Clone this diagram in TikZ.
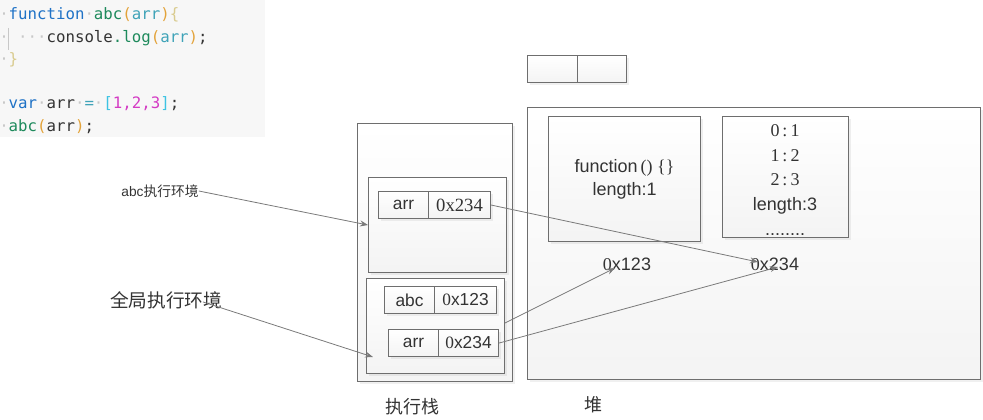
\documentclass[tikz,border=0pt]{standalone}
\usepackage{fontspec}
\setmainfont{Liberation Serif}
\setsansfont{Liberation Sans}
\setmonofont{DejaVu Sans Mono}
\newfontfamily\cjk{Noto Sans CJK SC}
\usetikzlibrary{arrows.meta,shadows,positioning}

\definecolor{boxgray}{HTML}{6E6E6E}
\definecolor{arrowgray}{HTML}{7A7A7A}
\definecolor{kwblue}{HTML}{1F72C6}
\definecolor{fngreen}{HTML}{1E8A5C}
\definecolor{parorange}{HTML}{E3A33A}
\definecolor{argteal}{HTML}{3FA3B8}
\definecolor{bracepale}{HTML}{D9CB8E}
\definecolor{brcyan}{HTML}{3DC3E3}
\definecolor{nummag}{HTML}{D43BC4}
\definecolor{dotgray}{HTML}{C8C8C8}
\definecolor{txt}{HTML}{333333}

\newcommand{\dt}{\textcolor{dotgray}{·}}

\tikzset{
  box/.style={draw=boxgray, line width=0.8pt, inner sep=0pt, anchor=north west,
    top color=white, bottom color=gray!9,
    drop shadow={opacity=0.12, shadow xshift=1.5pt, shadow yshift=-1.5pt}},
  cell/.style={box, minimum height=20.25pt, font=\sffamily\fontsize{13}{15}\selectfont, text=txt},
  codeline/.style={anchor=base west, inner sep=0pt, font=\ttfamily\fontsize{11.8}{14}\selectfont, text=txt},
  addr/.style={font=\sffamily\fontsize{13.5}{16}\selectfont, text=txt},
  link/.style={draw=arrowgray, line width=0.6pt, -{Stealth[length=6pt,width=4.5pt]}}
}

\begin{document}
\begin{tikzpicture}[x=0.75pt,y=-0.75pt]
  \useasboundingbox (0,0) rectangle (983,420);

  % code
  \fill [gray!6] (0,0) rectangle (265,137);
  \draw [dotgray, line width=0.6pt] (8,28) -- (8,50);
  \node [codeline] (code1) at (-1,20) {\dt\textcolor{kwblue}{function}\dt\textcolor{fngreen}{abc}\textcolor{parorange}{(}\textcolor{argteal}{arr}\textcolor{parorange}{)}\textcolor{bracepale}{\{}};
  \node [codeline] (code2) at (-1,43) {\dt\ \dt\dt\dt console\textcolor{fngreen}{.log}\textcolor{parorange}{(}\textcolor{argteal}{arr}\textcolor{parorange}{)};};
  \node [codeline] (code3) at (-1,65) {\dt\textcolor{bracepale}{\}}};
  \node [codeline] (code5) at (-1,109) {\dt\textcolor{kwblue}{var}\dt arr\dt\textcolor{argteal}{=}\dt\textcolor{brcyan}{[}\textcolor{nummag}{1,2,3}\textcolor{brcyan}{]};};
  \node [codeline] (code6) at (-1,132) {\dt\textcolor{fngreen}{abc}\textcolor{parorange}{(}arr\textcolor{parorange}{)};};

  % small cells at the top
  \node [cell, minimum width=37.5pt] (topa) at (527,55) {};
  \node [cell, minimum width=36.75pt] (topb) at (577,55) {};

  % execution stack
  \node [box, minimum width=116.25pt, minimum height=193.5pt] (stack) at (357,123) {};
  \node [box, minimum width=103.5pt, minimum height=71.25pt] (abcenv) at (368,177) {};
  \node [cell, minimum width=37.5pt] (abcarr) at (378,191) {arr};
  \node [cell, minimum width=46.5pt, font=\rmfamily\fontsize{14}{16}\selectfont] (abcval) at (428,191) {0x234};
  \node [box, minimum width=103.5pt, minimum height=71.25pt] (globenv) at (366,278) {};
  \node [cell, minimum width=37.5pt] (gabc) at (384,286) {abc};
  \node [cell, minimum width=46.5pt] (gabcval) at (434,286) {{\rmfamily 0}x123};
  \node [cell, minimum width=37.5pt] (garr) at (388,329) {arr};
  \node [cell, minimum width=45pt] (garrval) at (438,329) {{\rmfamily 0}x234};

  % heap
  \node [box, minimum width=339.75pt, minimum height=204pt] (heap) at (527,107) {};
  \node [box, minimum width=114pt, minimum height=93.75pt, align=center, text=txt,
    font=\sffamily\fontsize{13.5}{18}\selectfont] (fnobj) at (548,116)
    {function\,{\rmfamily()\ \{\}}\\[-1pt]length:1};
  \node [box, minimum width=94.5pt, minimum height=90.75pt] (arrobj) at (722,116) {};
  \node [align=center, text=txt, inner sep=0pt, font=\sffamily\fontsize{13.5}{18.4}\selectfont]
    (arrtxt) at (785,180) {{\rmfamily 0\,:\,1}\\{\rmfamily 1\,:\,2}\\{\rmfamily 2\,:\,3}\\length:3\\........};
  \node [addr] (fnaddr) at (627,264) {{\rmfamily 0}x123};
  \node [addr] (arraddr) at (775,264) {{\rmfamily 0}x234};

  % labels
  \node [font=\cjk\fontsize{10.3}{12}\selectfont, text=txt, inner sep=0pt] (abclabel) at (160,191) {{\sffamily abc}执行环境};
  \node [font=\cjk\fontsize{14}{16}\selectfont, text=txt, inner sep=0pt] (globlabel) at (166,300) {全局执行环境};
  \node [font=\cjk\fontsize{13.5}{16}\selectfont, text=txt] (stacklabel) at (412,407) {执行栈};
  \node [font=\cjk\fontsize{13.5}{16}\selectfont, text=txt] (heaplabel) at (593,405) {堆};

  % arrows
  \coordinate (globstart) at (203,302);
  \coordinate (globtip) at (373,357);
  \coordinate (abcvaltip) at (758,262);
  \coordinate (gstart) at (505,323);
  \coordinate (fntip) at (615,268);
  \coordinate (garrtip) at (778,267);
  \draw [link] (abclabel.east) -- (abcenv.west);
  \draw [link] (globstart) -- (globtip);
  \draw [link] (abcval.east) -- (abcvaltip);
  \draw [link] (gstart) -- (fntip);
  \draw [link] (garrval.east) -- (garrtip);
\end{tikzpicture}
\end{document}
